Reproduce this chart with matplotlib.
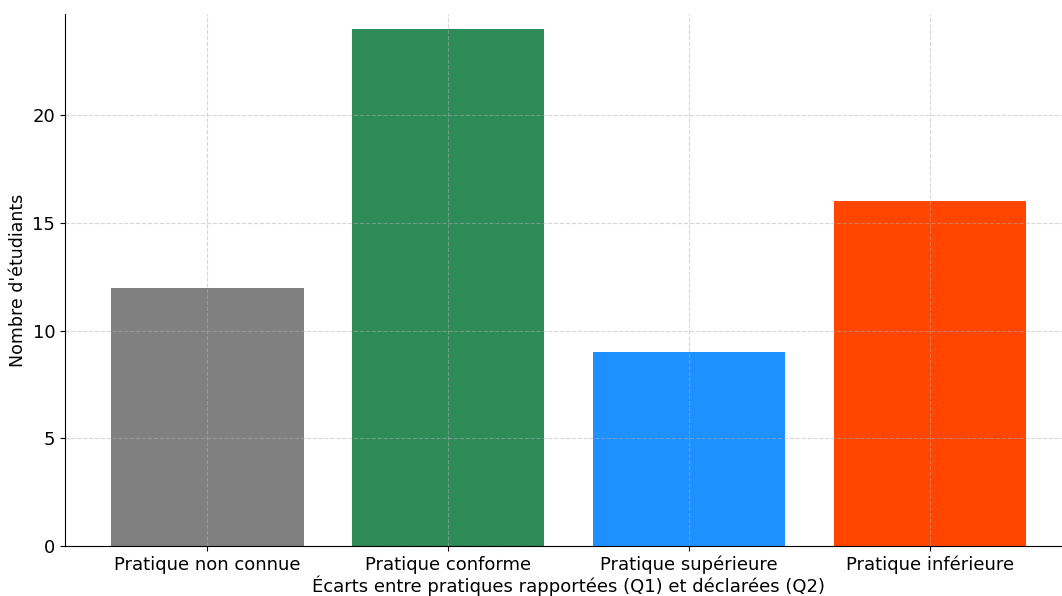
import matplotlib.pyplot as plt

categories = ["Pratique non connue", "Pratique conforme",
              "Pratique supérieure", "Pratique inférieure"]
counts = [12, 24, 9, 16]
colors = ["grey", "seagreen", "dodgerblue", "orangered"]


def main():
    fig = plt.figure(figsize=(10.62, 5.96), dpi=100)
    ax = fig.add_axes([65 / 1062, 50 / 596, 1007 / 1062, 532 / 596])
    ax.bar(range(len(categories)), counts, color=colors, width=0.8)
    ax.set_xticks(range(len(categories)))
    ax.set_xticklabels(categories, fontsize=13)
    ax.tick_params(axis="y", labelsize=13)
    ax.set_xlim(-0.59, 3.59)
    ax.set_ylim(0, 24.7)
    ax.set_yticks([0, 5, 10, 15, 20])
    ax.set_xlabel("Écarts entre pratiques rapportées (Q1) et déclarées (Q2)",
                  fontsize=13, labelpad=1)
    ax.set_ylabel("Nombre d'étudiants", fontsize=12.5)
    ax.grid(True, linestyle="--", alpha=0.5)
    ax.spines["top"].set_visible(False)
    ax.spines["right"].set_visible(False)
    fig.savefig("out.png", dpi=100)


if __name__ == "__main__":
    main()
